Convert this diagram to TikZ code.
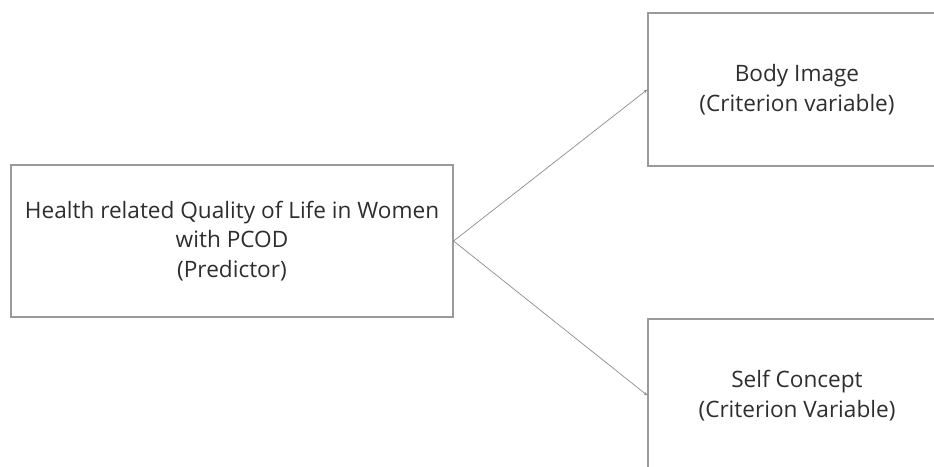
\documentclass[tikz,border=0pt]{standalone}
\usepackage{fontspec}
\setmainfont{Open Sans}
\usetikzlibrary{arrows.meta}
\definecolor{boxline}{HTML}{9A9A9A}
\definecolor{arrline}{HTML}{8C8C8C}
\definecolor{txt}{HTML}{2E2E2E}
\begin{document}
\begin{tikzpicture}[x=1pt,y=1pt,
  varbox/.style={draw=boxline,line width=1.1pt,rectangle,inner sep=0pt,
    align=center,text=txt,font=\fontsize{22.6}{29.5}\selectfont},
  conn/.style={draw=arrline,line width=0.7pt,-{Stealth[length=4pt,width=3pt]}}]
\useasboundingbox (0,0) rectangle (934,466);
\clip (0,0) rectangle (934,466);
\node[varbox,minimum width=442pt,minimum height=152pt] (pred) at (232,225)
  {Health related Quality of Life in Women\\with PCOD\\(Predictor)};
\node[varbox,minimum width=298pt,minimum height=153pt] (body) at (797,376.5)
  {Body Image\\(Criterion variable)};
\node[varbox,minimum width=298pt,minimum height=153pt] (self) at (797,70.5)
  {Self Concept\\(Criterion Variable)};
\draw[conn] (pred.east) -- (body.west);
\draw[conn] (pred.east) -- (self.west);
\end{tikzpicture}
\end{document}
